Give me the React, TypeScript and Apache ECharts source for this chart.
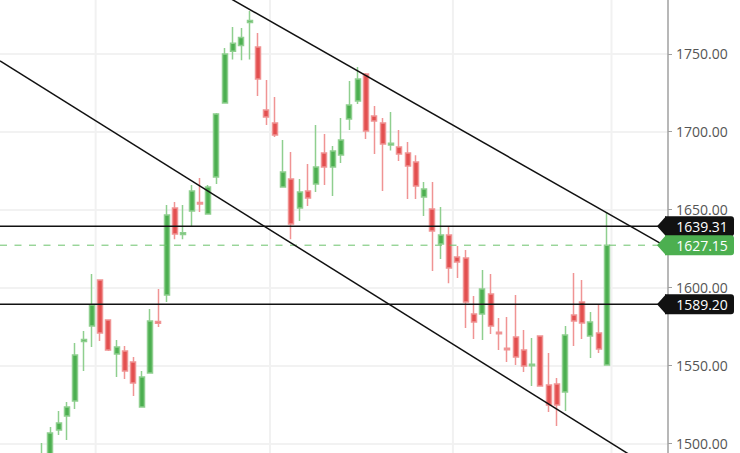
import React, { useEffect, useRef } from "react";
import * as echarts from "echarts";

// OHLC values, one entry per trading session (index 0..68)
const opens = [
  1485, 1490, 1508.5, 1517.5, 1527.1, 1565.4, 1575.3, 1604.8, 1579.1, 1557.3,
  1559.2, 1552.2, 1523.3, 1545.1, 1578.1, 1595.2, 1651, 1634, 1649.1, 1654.6,
  1647.2, 1670.9, 1718.4, 1751.6, 1755.4, 1770.1, 1754.4, 1713.9, 1705.6, 1664.5,
  1669.6, 1651, 1661.9, 1666.4, 1686.3, 1677.3, 1685, 1708.1, 1719.7, 1737.1,
  1710, 1705.6, 1691.5, 1690.2, 1686.3, 1680.5, 1658.1, 1650.4, 1627.9, 1633.7,
  1619.6, 1618.9, 1583, 1583, 1595.8, 1571.3, 1561, 1568.2, 1559.9, 1549.8,
  1568.9, 1537.4, 1538, 1532.9, 1582.3, 1590.7, 1568.9, 1570.8, 1550.3,
];
const closes = [
  1492, 1506.6, 1513, 1523.3, 1556.7, 1566.6, 1588.8, 1570.8, 1559.9, 1561.8,
  1546.4, 1538.7, 1542.6, 1578.5, 1577, 1646.5, 1634.3, 1635.2, 1661.9, 1653.6,
  1664.5, 1711.3, 1749.8, 1756.7, 1760.5, 1771.3, 1733.9, 1709.4, 1697.9, 1674.1,
  1640.7, 1661.3, 1657.4, 1677.3, 1677.3, 1687.6, 1694.7, 1717.1, 1733.9, 1700.4,
  1706.8, 1692.1, 1692.6, 1685.7, 1678, 1665.1, 1663.2, 1636.3, 1633.7, 1612.5,
  1616.4, 1590.7, 1577.9, 1599, 1575.3, 1570.3, 1560, 1555.4, 1549.6, 1550.8,
  1536.8, 1524.6, 1524.6, 1569.5, 1578.5, 1577.2, 1577.9, 1560.5, 1627.15,
];
const lows = [
  1480, 1486, 1505.3, 1502.1, 1522, 1546.4, 1561.8, 1565.7, 1559.2, 1542.6,
  1541.3, 1530.4, 1523, 1545, 1574.6, 1590.7, 1631, 1631, 1638.9, 1648.5,
  1647, 1666.4, 1718.2, 1746.4, 1745.8, 1746.4, 1722.9, 1704.3, 1696.6, 1664.3,
  1631, 1642.7, 1652.3, 1661.3, 1665.8, 1658.7, 1679.9, 1701.1, 1717.8, 1695.3,
  1685.7, 1661.9, 1688, 1681.2, 1656.8, 1656.8, 1645.9, 1610.6, 1618.3, 1602.8,
  1606.1, 1574, 1566.9, 1566.3, 1570.1, 1559.9, 1552.2, 1550.3, 1545.8, 1536.8,
  1536.5, 1520.1, 1511.1, 1520.7, 1562.4, 1566.9, 1554.7, 1558, 1550,
];
const highs = [
  1500.2, 1510.5, 1520.7, 1526.5, 1564.4, 1572, 1608.7, 1605.2, 1579.5, 1566.3,
  1562.4, 1555.4, 1546.4, 1586.2, 1599, 1652.9, 1654.9, 1652.9, 1665.8, 1670.3,
  1665.8, 1712, 1753.7, 1767.2, 1766.5, 1777.5, 1763.4, 1733.2, 1722.2, 1694.6,
  1687, 1669.6, 1679.3, 1704.3, 1698.5, 1690.8, 1708.8, 1732.6, 1741.6, 1737.7,
  1716.5, 1708.8, 1712.7, 1701.1, 1693.4, 1684.9, 1667.7, 1667.7, 1651.7, 1638.8,
  1626.6, 1624.1, 1594.5, 1611.2, 1608.7, 1580.4, 1581, 1595.2, 1572.7, 1567.6,
  1569.2, 1558, 1541.9, 1575.3, 1609.3, 1604.8, 1584.3, 1589.4, 1648.4,
];

// axis window (index units on x, price on y)
const xMin = -5.05;
const xMax = 75.35;
const yMin = 1450;
const yMax = 1800;
const yStep = 50;

// month boundaries (vertical grid lines), in index units
const monthLines = [6.46, 27.44, 49.46, 68.55];

// horizontal price levels
const levelValues = [1639.31, 1627.15, 1589.2];
const levelColors = ["#111111", "#4caf50", "#111111"];
const levelDashed = [false, true, false];

// trend lines [index, price]
const upperTrend = [
  [18, 1799.7],
  [75.35, 1625.6],
];
const lowerTrend = [
  [-5.05, 1745.4],
  [75.35, 1477.3],
];

const UP = "#4caf50";
const DOWN = "#e34f4f";
const UP_WICK = "#8fcf8f";
const DOWN_WICK = "#f09494";

export default function App() {
  const ref = useRef<HTMLDivElement>(null);

  useEffect(() => {
    if (!ref.current) return;
    const chart = echarts.init(ref.current, null, { renderer: "svg" });

    const candleData = opens.map((o, i) => [i, o, closes[i], lows[i], highs[i]]);

    const gridSeries = monthLines.map((m) => ({
      type: "line",
      data: [
        [m, yMin],
        [m, yMax],
      ],
      symbol: "none",
      silent: true,
      z: 1,
      lineStyle: { color: "#f1f1f1", width: 2 },
    }));

    const levelSeries = levelValues.map((v, i) => ({
      type: "line",
      data: [
        [xMin, v],
        [xMax, v],
      ],
      symbol: "none",
      silent: true,
      z: 5,
      lineStyle: levelDashed[i]
        ? { color: "#6cc26c", width: 1, type: [7, 7.5] }
        : { color: levelColors[i], width: 1.5 },
    }));

    const trendSeries = [upperTrend, lowerTrend].map((d) => ({
      type: "line",
      data: d,
      symbol: "none",
      silent: true,
      z: 6,
      lineStyle: { color: "#111111", width: 1.5 },
    }));

    chart.setOption({
      animation: false,
      grid: {
        left: 0,
        right: 72,
        top: -24.1,
        bottom: -68.2,
        containLabel: false,
        outerBoundsMode: "none",
      },
      xAxis: {
        type: "value",
        min: xMin,
        max: xMax,
        show: false,
        splitLine: { show: false },
      },
      yAxis: {
        type: "value",
        position: "right",
        min: yMin,
        max: yMax,
        interval: yStep,
        axisLine: { show: true, onZero: false, lineStyle: { color: "#a0a0a0", width: 1.5 } },
        axisTick: { show: true, length: 4, lineStyle: { color: "#a0a0a0" } },
        axisLabel: {
          margin: 8,
          color: "#555555",
          fontSize: 14,
          fontFamily: "Open Sans",
          showMinLabel: false,
          showMaxLabel: false,
          formatter: (v: number) => v.toFixed(2),
        },
        splitLine: { show: true, lineStyle: { color: "#eeeeee", width: 1.5 } },
      },
      series: [
        ...gridSeries,
        {
          type: "candlestick",
          data: candleData,
          encode: { x: 0, y: [1, 2, 3, 4] },
          barWidth: 5.5,
          z: 3,
          itemStyle: {
            color: UP,
            color0: DOWN,
            borderColor: UP_WICK,
            borderColor0: DOWN_WICK,
            borderWidth: 1.5,
          },
        },
        ...levelSeries,
        ...trendSeries,
        {
          type: "custom",
          clip: false,
          silent: true,
          z: 10,
          data: levelValues.map((v, i) => [xMax, v, i]),
          encode: { x: 0, y: 1 },
          renderItem: (_params: any, api: any) => {
            const v = api.value(1) as number;
            const idx = api.value(2) as number;
            const p = api.coord([api.value(0), v]);
            const x = p[0];
            const y = p[1];
            const h = 20;
            const col = levelColors[idx];
            return {
              type: "group",
              children: [
                {
                  type: "polygon",
                  shape: {
                    points: [
                      [x - 11, y],
                      [x - 2, y - h / 2],
                      [x - 2, y + h / 2],
                    ],
                  },
                  style: { fill: col },
                },
                {
                  type: "rect",
                  shape: { x: x - 3, y: y - h / 2, width: 69, height: h, r: [0, 3, 3, 0] },
                  style: { fill: col },
                },
                {
                  type: "text",
                  x: x + 34,
                  y: y,
                  style: {
                    text: v.toFixed(2),
                    fill: "#ffffff",
                    font: '14px "Open Sans"',
                    align: "center",
                    verticalAlign: "middle",
                  },
                },
              ],
            };
          },
        },
      ],
    });

    return () => chart.dispose();
  }, []);

  return (
    <div
      ref={ref}
      style={{
        position: "fixed",
        left: 0,
        top: 0,
        width: 740,
        height: 453,
        overflow: "hidden",
        background: "#ffffff",
      }}
    />
  );
}
